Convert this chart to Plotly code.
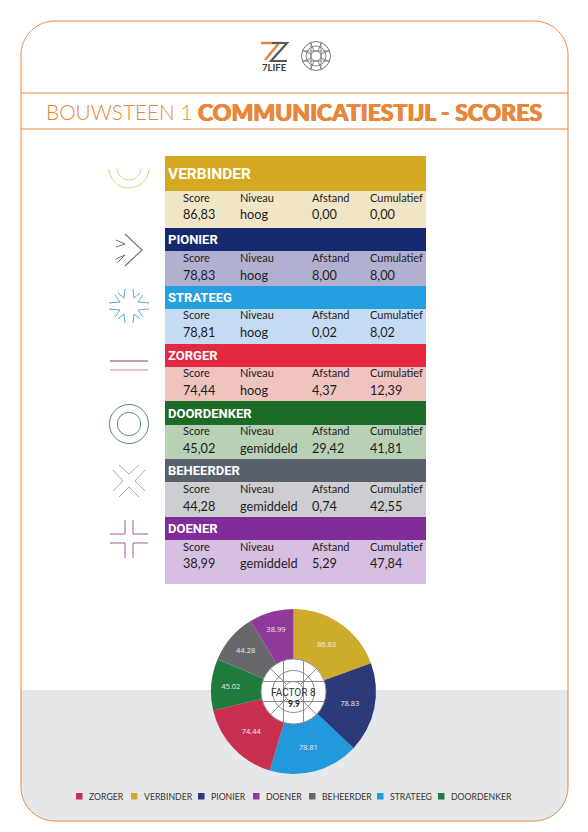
import numpy as np
import plotly.graph_objects as go

W, H = 588, 832

# ---- data ----
names = ["VERBINDER", "PIONIER", "STRATEEG", "ZORGER", "DOORDENKER", "BEHEERDER", "DOENER"]
scores = [86.83, 78.83, 78.81, 74.44, 45.02, 44.28, 38.99]
niveaus = ["hoog", "hoog", "hoog", "hoog", "gemiddeld", "gemiddeld", "gemiddeld"]
afstand = [0.00, 8.00, 0.02, 4.37, 29.42, 0.74, 5.29]
cumulatief = [0.00, 8.00, 8.02, 12.39, 41.81, 42.55, 47.84]
column_titles = ["Score", "Niveau", "Afstand", "Cumulatief"]
legend_order = ["ZORGER", "VERBINDER", "PIONIER", "DOENER", "BEHEERDER", "STRATEEG", "DOORDENKER"]

# ---- styles ----
pie_colors = ["#CFAB2C", "#2D3A7A", "#2299DC", "#C9304F", "#1F7A3D", "#66676B", "#8F3A9A"]
head_colors = ["#D4A820", "#152A6E", "#24A0E0", "#E3283F", "#1E6B28", "#59606A", "#812A9A"]
body_colors = ["#F0E5C4", "#B2B0D0", "#C5DAF3", "#EFC3BF", "#B8D1B5", "#CDCED2", "#D7BFE2"]
ORANGE = "#E8873A"
row_tops = [156, 228, 286, 344, 401, 459, 517, 584]
head_bottoms = [191, 251, 309, 367, 425, 482, 540]
label_ys = [197, 257, 315, 372, 430, 488, 546]
value_ys = [214, 275, 332, 390, 448, 506, 563]
column_xs = [183, 240, 312, 370]
legend_xs = [76, 131, 198, 253, 309, 377, 438]
BODY = "Lato"
HEAD = "Roboto"


def px(x):
    return x / W


def py(y):
    return 1 - y / H


shapes, notes = [], []


def rect(x0, y0, x1, y1, color, layer="below"):
    shapes.append(dict(type="rect", xref="paper", yref="paper", x0=px(x0), x1=px(x1),
                       y0=py(y0), y1=py(y1), fillcolor=color, line_width=0, layer=layer))


def poly(points, color, width=1.0, fill=None, close=False, layer="below"):
    d = "M" + " L".join(f"{px(a):.5f},{py(b):.5f}" for a, b in points) + (" Z" if close else "")
    shapes.append(dict(type="path", xref="paper", yref="paper", path=d,
                       line=dict(color=color, width=width), fillcolor=fill, layer=layer))


def circle(cx, cy, r, color, width=1.0, fill=None, layer="below"):
    shapes.append(dict(type="circle", xref="paper", yref="paper", x0=px(cx - r), x1=px(cx + r),
                       y0=py(cy + r), y1=py(cy - r), line=dict(color=color, width=width),
                       fillcolor=fill, layer=layer))


def text(x, y, s, size, color="#1E1E1E", family=BODY, anchor="left", weight=None, shadow=None):
    font = dict(size=size, color=color, family=family)
    if weight:
        font["weight"] = weight
    if shadow:
        font["shadow"] = shadow
    notes.append(dict(x=px(x), y=py(y), xref="paper", yref="paper", text=s, showarrow=False,
                      xanchor=anchor, yanchor="middle", font=font, borderpad=0, borderwidth=0))


def arc(cx, cy, r, a0, a1, n=30):
    return [(cx + r * np.cos(t), cy + r * np.sin(t)) for t in np.linspace(a0, a1, n)]


# ---- page frame ----
L, R, T, B, C = 21, 568, 21, 821, 34
frame = (arc(L + C, T + C, C, np.pi, 1.5 * np.pi) + arc(R - C, T + C, C, 1.5 * np.pi, 2 * np.pi)
         + arc(R - C, B - C, C, 0, .5 * np.pi) + arc(L + C, B - C, C, .5 * np.pi, np.pi))
grey = [(L, 690), (R, 690)] + arc(R - C, B - C, C, 0, .5 * np.pi) + arc(L + C, B - C, C, .5 * np.pi, np.pi)
poly(grey, "#E6E7E8", 0.1, fill="#E6E7E8", close=True)
poly(frame, ORANGE, 1.0, close=True)
poly([(L, 93), (R, 93)], ORANGE, 1)
poly([(L, 129), (R, 129)], ORANGE, 1)

# ---- logo ----
poly([(261, 43), (279, 43), (265, 60)], ORANGE, 2.6)
poly([(272, 43), (287, 43), (271, 61), (287, 61)], "#55585C", 2.2)
text(274, 67, "7LIFE", 9.5, "#3A3A3A", "Lato", "center", 700)
circle(316, 56, 14.5, "#55585C", 0.8)
circle(316, 56, 10, "#55585C", 0.7)
circle(316, 56, 5, "#55585C", 0.7)
for k in range(8):
    a = k * np.pi / 4 + np.pi / 8
    poly([(316 + 5 * np.cos(a), 56 + 5 * np.sin(a)), (316 + 14.5 * np.cos(a), 56 + 14.5 * np.sin(a))], "#55585C", 0.7)
for d in (-5, 5):
    poly([(316 + d, 43), (316 + d, 69)], "#55585C", 0.6)
    poly([(303, 56 + d), (329, 56 + d)], "#55585C", 0.6)

# ---- title ----
text(46, 112, "BOUWSTEEN 1", 20.8, ORANGE, "Lato", weight=300)
text(198, 112, "COMMUNICATIESTIJL - SCORES", 23, ORANGE, "Lato", weight=900,
     shadow="0.5px 0 0 #E8873A, -0.5px 0 0 #E8873A, 0 0.4px 0 #E8873A")

# ---- table ----
for i, name in enumerate(names):
    rect(165, row_tops[i], 426, row_tops[i + 1], body_colors[i])
    rect(165, row_tops[i], 426, head_bottoms[i], head_colors[i])
    text(168, (row_tops[i] + head_bottoms[i]) / 2, name, 15.5 if i == 0 else 13, "#FFFFFF", HEAD, weight=700)
    for x, t in zip(column_xs, column_titles):
        text(x, label_ys[i], t, 11)
    row = [f"{scores[i]:.2f}", niveaus[i], f"{afstand[i]:.2f}", f"{cumulatief[i]:.2f}"]
    for x, v in zip(column_xs, row):
        text(x, value_ys[i], v.replace(".", ","), 12.7)

# ---- icons ----
c = "#D9CF7C"
poly(arc(129, 168, 20, 0.05, np.pi - 0.05), c)
poly(arc(129, 168, 12, 0.05, np.pi - 0.05), c)
c = "#6A6D85"
poly([(125, 234), (142, 250), (125, 266)], c, 1.1)
poly([(116, 240), (125, 244), (116, 247)], c)
poly([(116, 259), (125, 255), (117, 263)], c)
c = "#5CA9C9"
for dx, dy in [(-1, -1), (1, -1), (-1, 1), (1, 1)]:
    hx, hy = 129 + dx * 5, 306 + dy * 8
    poly([(129 + dx * 4, 306 + dy * 17), (hx, hy), (129 + dx * 11, 306 + dy * 13)], c)
    hx, hy = 129 + dx * 9, 306 + dy * 4
    poly([(129 + dx * 20, 306 + dy * 3), (hx, hy), (129 + dx * 14, 306 + dy * 11)], c)
poly([(110, 361), (148, 361)], "#8A3A55")
poly([(110, 370), (148, 370)], "#C58A9C")
circle(129, 424, 19.5, "#5F8A6C")
circle(129, 424, 11.7, "#5F8A6C")
c = "#A9ABAE"
poly([(119, 465), (129, 474), (139, 465)], c)
poly([(119, 497), (129, 487), (139, 497)], c)
poly([(113, 470), (123, 481), (113, 491)], c)
poly([(145, 470), (135, 481), (145, 491)], c)
c = "#9A5A9E"
poly([(110, 534), (125, 534), (125, 520)], c)
poly([(133, 520), (133, 534), (148, 534)], c)
poly([(110, 543), (125, 543), (125, 558)], c)
poly([(148, 543), (133, 543), (133, 558)], c)

# ---- wheel in the doughnut hole ----
CX, CY = 293.5, 691.5
RO, RH = 82.5, 32.5
GREY = "#8C8C8E"
circle(CX, CY, RH, GREY, 1, "#FFFFFF", "above")
circle(CX, CY, 21, GREY, 1, None, "above")
circle(CX, CY, 10, GREY, 1, None, "above")
for d in (-10, 10):
    h = np.sqrt(RH ** 2 - d ** 2)
    poly([(CX + d, CY - h), (CX + d, CY + h)], GREY, 1, layer="above")
    poly([(CX - h, CY + d), (CX + h, CY + d)], GREY, 1, layer="above")
for a in (np.pi / 4, 3 * np.pi / 4, 5 * np.pi / 4, 7 * np.pi / 4):
    poly([(CX + 10 * np.cos(a), CY + 10 * np.sin(a)), (CX + RH * np.cos(a), CY + RH * np.sin(a))], GREY, 1, layer="above")
text(CX, 692, "FACTOR 8", 10, "#333333", HEAD, "center")
text(CX, 704, "9.9", 8.5, "#222222", "Lato", "center", 700)

# ---- legend ----
for x, name in zip(legend_xs, legend_order):
    rect(x, 793, x + 6.5, 799.5, pie_colors[names.index(name)])
    text(x + 13, 796.5, name, 8.7, "#333333")

fig = go.Figure(go.Pie(
    values=scores, labels=names, text=[f"{v:.2f}" for v in scores], textinfo="text",
    sort=False, direction="clockwise", rotation=0, hole=RH / RO,
    marker=dict(colors=pie_colors, line=dict(width=0)),
    textposition="inside", insidetextorientation="horizontal",
    insidetextfont=dict(size=7.5, color="#F2E9F0", family="Open Sans"),
    hoverinfo="label+value",
    domain=dict(x=[px(CX - RO), px(CX + RO)], y=[py(CY + RO), py(CY - RO)]),
))
fig.update_layout(width=W, height=H, margin=dict(l=0, r=0, t=0, b=0), showlegend=False,
                  paper_bgcolor="#FFFFFF", plot_bgcolor="#FFFFFF", shapes=shapes, annotations=notes)
fig.write_html("out.html", config=dict(displayModeBar=False),
               post_script="document.body.style.margin='0';")
